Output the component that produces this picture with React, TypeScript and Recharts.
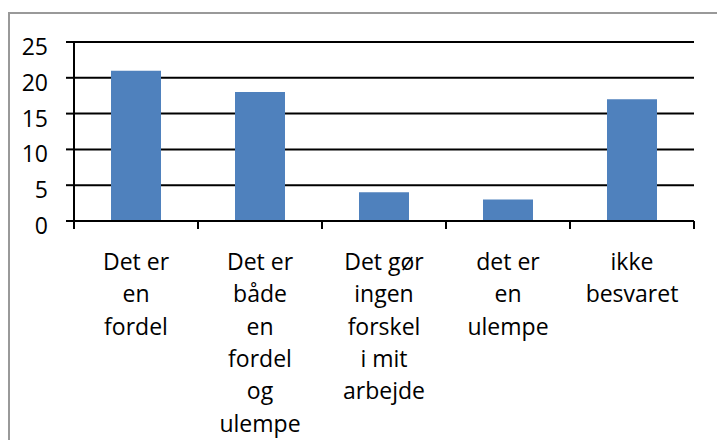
import { Bar, BarChart, CartesianGrid, XAxis, YAxis } from "recharts";

const categories = [
  "Det er\nen\nfordel",
  "Det er\nbåde\nen\nfordel\nog\nulempe",
  "Det gør\ningen\nforskel\ni mit\narbejde",
  "det er\nen\nulempe",
  "ikke\nbesvaret",
];
const counts = [21, 18, 4, 3, 17];
const yTicks = [0, 5, 10, 15, 20, 25];

const chartData = categories.map((name, i) => ({ name, value: counts[i] }));

const FONT = "'Open Sans', sans-serif";
const HALF_BAND = 62; // (694 - 74) / 5 / 2

const CategoryTick = (props: any) => {
  const { x, y, payload, index } = props;
  const lines: string[] = String(payload.value).split("\n");
  const last = index === categories.length - 1;
  return (
    <g>
      <line x1={x - HALF_BAND} y1={y} x2={x - HALF_BAND} y2={y + 8} stroke="#000" strokeWidth={2} />
      {last && <line x1={x + HALF_BAND} y1={y} x2={x + HALF_BAND} y2={y + 8} stroke="#000" strokeWidth={2} />}
      <text x={x} y={y + 49} textAnchor="middle" fill="#000" fontSize={23} fontFamily={FONT}>
        {lines.map((line, i) => (
          <tspan key={i} x={x} dy={i === 0 ? 0 : 32.3}>
            {line}
          </tspan>
        ))}
      </text>
    </g>
  );
};

const ValueTick = (props: any) => {
  const { x, y, payload } = props;
  return (
    <text x={x} y={y + 13} textAnchor="end" fill="#000" fontSize={23} fontFamily={FONT}>
      {payload.value}
    </text>
  );
};

export default function App() {
  return (
    <div style={{ position: "absolute", left: 0, top: 0, width: 717, height: 440, background: "#fff" }}>
      <div
        style={{
          position: "absolute",
          left: 8,
          top: 12,
          width: 709,
          height: 428,
          borderLeft: "2px solid #999",
          borderTop: "2px solid #999",
          boxSizing: "border-box",
        }}
      />
      <div style={{ position: "absolute", left: 0, top: 0 }}>
        <BarChart width={717} height={440} data={chartData} margin={{ top: 42, right: 23, left: 0, bottom: 0 }}>
          <CartesianGrid vertical={false} stroke="#000" strokeWidth={2} />
          <XAxis
            dataKey="name"
            interval={0}
            height={219}
            tickSize={0}
            tickMargin={0}
            tickLine={false}
            axisLine={{ stroke: "#000", strokeWidth: 2 }}
            tick={(p: any) => <CategoryTick {...p} />}
          />
          <YAxis
            width={74}
            domain={[0, 25]}
            ticks={yTicks}
            interval={0}
            tickSize={8}
            tickMargin={18}
            tickLine={{ stroke: "#000", strokeWidth: 2 }}
            axisLine={{ stroke: "#000", strokeWidth: 2 }}
            tick={(p: any) => <ValueTick {...p} />}
          />
          <Bar dataKey="value" fill="#4F81BD" barSize={50} isAnimationActive={false} />
        </BarChart>
      </div>
    </div>
  );
}
